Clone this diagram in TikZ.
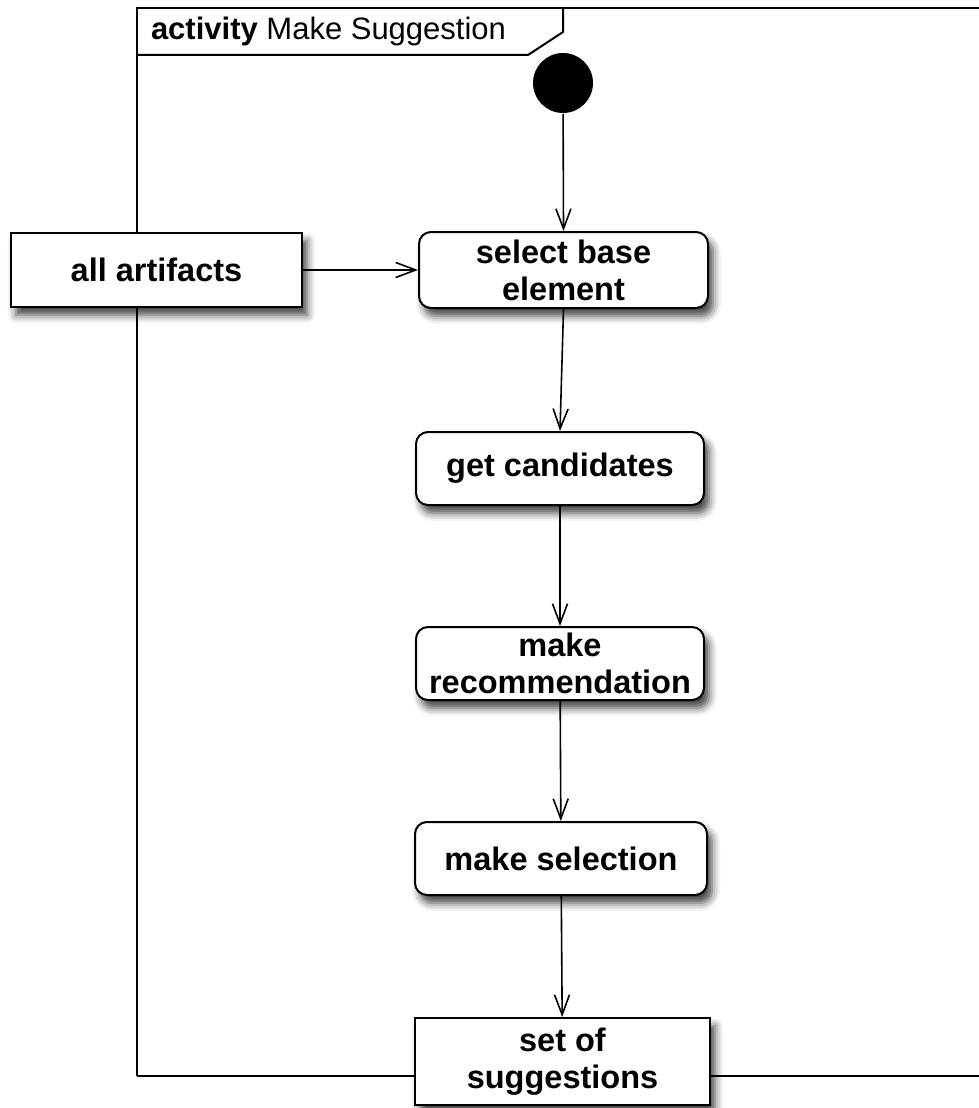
\documentclass[tikz,border=0pt]{standalone}
\usepackage{fontspec}
\setmainfont{Liberation Sans}
\usetikzlibrary{arrows.meta,shadows.blur}

\begin{document}
\begin{tikzpicture}[x=1pt,y=-1pt,
  line width=2pt,
  lbl/.style={font=\fontsize{32.5}{37}\selectfont\bfseries, align=center, inner sep=0pt},
  shade/.style={blur shadow={shadow xshift=5pt, shadow yshift=-8pt,
      shadow blur radius=8pt, shadow opacity=75}},
  action/.style={lbl, draw, fill=white, rounded corners=12pt, shade},
  objnode/.style={lbl, draw, fill=white, shade},
  flow/.style={line width=1.6pt, -{Straight Barb[length=20pt,width=15pt,line width=1.6pt]}}]

\useasboundingbox (0,0) rectangle (979,1108);

% activity frame and its name tab
\draw (137,1076) -- (137,8) -- (990,8);
\draw (137,1076) -- (990,1076);
\draw (137,55) -- (528,55) -- (563,32) -- (563,8);
\node[anchor=base west, inner sep=0pt, font=\fontsize{31}{36}\selectfont]
  (title) at (150,40) {\textbf{activity} Make Suggestion};

% initial node
\node[circle, fill=black, minimum size=60pt, inner sep=0pt] (init) at (563,83) {};

% object and action nodes
\node[objnode, minimum width=291pt, minimum height=74pt] (all) at (156.5,270) {all artifacts};
\node[action, minimum width=289pt, minimum height=76pt] (sel) at (563.5,270) {select base\\element};
\node[action, minimum width=288pt, minimum height=73pt] (cand) at (560,468.5) {get candidates};
\node[action, minimum width=288pt, minimum height=73pt] (rec) at (560,663.5) {make\\recommendation};
\node[action, minimum width=292pt, minimum height=73pt] (msel) at (561,858.5) {make selection};
\node[objnode, minimum width=295pt, minimum height=87pt] (sugg) at (562.5,1061.5) {set of\\suggestions};

% control and object flows
\draw[flow] (init) -- (sel.north);
\draw[flow] (all) -- (sel);
\draw[flow] (sel.south) -- (cand.north);
\draw[flow] (cand) -- (rec);
\draw[flow] (rec) -- (msel);
\draw[flow] (msel) -- (sugg);
\end{tikzpicture}
\end{document}
